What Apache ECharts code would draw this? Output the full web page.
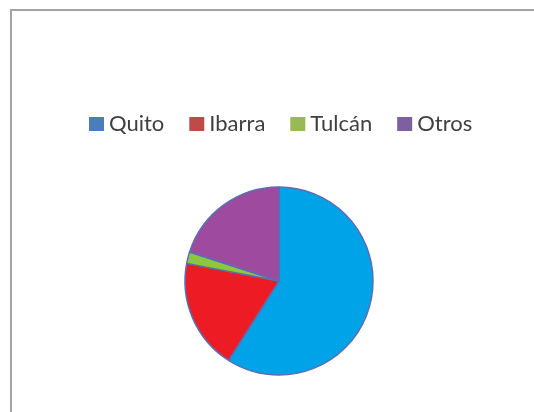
<!DOCTYPE html>
<html>
<head>
<meta charset="utf-8">
<script src="https://cdn.jsdelivr.net/npm/echarts@6/dist/echarts.min.js"></script>
<style>
  html, body { margin: 0; padding: 0; background: #fff; }
  #main { width: 534px; height: 412px; }
</style>
</head>
<body>
<div id="main"></div>
<script>
// ciudades y porcentajes
const cities = ["Quito", "Ibarra", "Tulcán", "Otros"];
const shares = [59, 19, 2, 20];
const sliceColors = ["#00a2e8", "#ed1c24", "#8dc63f", "#9e4b9f"];
const legendColors = ["#4a7ebb", "#be4b48", "#98b954", "#7d60a0"];

const chart = echarts.init(document.getElementById("main"));

const option = {
  backgroundColor: "#fff",
  animation: false,
  graphic: [
    {
      // marco: solo se ven los bordes superior e izquierdo
      type: "polyline",
      shape: { points: [[11, 420], [11, 10], [540, 10]] },
      style: { fill: "none", stroke: "#a3a3a3", lineWidth: 2 },
      silent: true,
    },
  ],
  legend: {
    top: 113,
    left: 89,
    padding: 0,
    itemWidth: 15,
    itemHeight: 14,
    itemGap: 25,
    icon: "rect",
    textStyle: {
      fontFamily: "Lato",
      fontSize: 22,
      color: "#404040",
      padding: [0, 0, 0, 0],
    },
    data: cities.map((c, i) => ({
      name: c,
      itemStyle: { color: legendColors[i], borderWidth: 0 },
    })),
  },
  series: [
    {
      type: "pie",
      center: [279, 281],
      radius: 94,
      startAngle: 90,
      clockwise: true,
      label: { show: false },
      labelLine: { show: false },
      itemStyle: { borderColor: "#5a6fb3", borderWidth: 1.5 },
      emphasis: { disabled: true },
      data: cities.map((c, i) => ({
        name: c,
        value: shares[i],
        itemStyle: { color: sliceColors[i] },
      })),
    },
  ],
};

chart.setOption(option);
</script>
</body>
</html>
